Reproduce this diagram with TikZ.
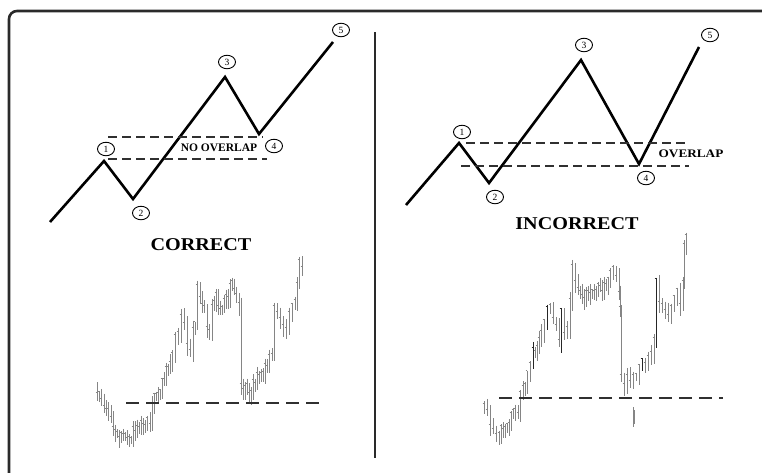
\documentclass[tikz,border=0pt]{standalone}
\usepackage{fontspec}
\setmainfont{Liberation Serif}
\usetikzlibrary{shapes.geometric,positioning}
\definecolor{ewframe}{HTML}{2A2A2A}
\definecolor{ewdash}{HTML}{303030}
\colorlet{bg}{black!48}
\colorlet{bk}{black!85}

% price bars: start x, start y, list of x/y/colour
\newcommand{\pricebars}[3]{%
  \xdef\lastc{#2}%
  \foreach \xa/\ya/\cl [remember=\xa as \xp (initially #1),remember=\ya as \yp (initially #2)] in {#3}{
    \pgfmathtruncatemacro\nb{max(1,round((\xa-\xp)/2.6))}
    \foreach \k in {1,...,\nb}{
      \pgfmathsetmacro\bx{\xp+(\xa-\xp)*\k/\nb}
      \pgfmathsetmacro\bc{\yp+(\ya-\yp)*\k/\nb+5*rand}
      \pgfmathsetmacro\bt{min(\bc,\lastc)-3-7*rnd}
      \pgfmathsetmacro\bb{max(\bc,\lastc)+3+7*rnd}
      \draw[bar,draw=\cl] (\bx,\bt) -- (\bx,\bb);
      \draw[bar,draw=\cl] (\bx-1.4,\bc-3) -- (\bx,\bc-3) (\bx,\bc+1) -- (\bx+1.4,\bc+1);
      \xdef\lastc{\bc}
    }
  }%
}

\begin{document}
\begin{tikzpicture}[x=1pt,y=-1pt,every node/.style={font=\bfseries,align=center}]
\tikzset{
  wave/.style={line width=2.6pt,line join=miter,black},
  lbl/.style={draw,ellipse,line width=0.9pt,minimum width=17pt,minimum height=13.5pt,inner sep=0pt,font=\fontsize{9.5}{9.5}\selectfont},
  ovl/.style={dash pattern=on 9pt off 5pt,line width=1.1pt,ewdash},
  sup/.style={dash pattern=on 13pt off 7pt,line width=1.3pt,ewdash},
  bar/.style={line width=0.85pt},
  title/.style={font=\fontsize{18}{18}\selectfont\bfseries,xscale=1.12,inner sep=0pt}
}
\pgfmathsetseed{11}
\useasboundingbox (0,0) rectangle (762,472);

% frame and divider
\draw[ewframe,line width=2.6pt,rounded corners=8pt] (9,474) -- (9,11) -- (762,11);
\coordinate (dv1) at (375,32);
\coordinate (dv2) at (375,458);
\draw[ewframe,line width=1.2pt] (dv1) -- (dv2);

% correct count
\coordinate (c0) at (50,222);
\coordinate (c1) at (104,161);
\coordinate (c2) at (133,199);
\coordinate (c3) at (225,77);
\coordinate (c4) at (259,134);
\coordinate (c5) at (333,42);
\draw[wave] (c0) -- (c1) -- (c2) -- (c3) -- (c4) -- (c5);
\node[lbl] (cl1) at (106,149) {1};
\node[lbl] (cl2) at (141,213) {2};
\node[lbl] (cl3) at (227,62) {3};
\node[lbl] (cl4) at (274,146) {4};
\node[lbl] (cl5) at (341,30) {5};
\coordinate (ct1) at (108,137);
\coordinate (ct2) at (263,137);
\coordinate (cb1) at (108,159);
\coordinate (cb2) at (267,159);
\draw[ovl] (ct1) -- (ct2);
\draw[ovl] (cb1) -- (cb2);
\node[font=\fontsize{11.5}{11.5}\selectfont\bfseries,inner sep=0pt] (nov) at (219,148) {NO OVERLAP};
\node[title] (ctit) at (201,245) {CORRECT};

% incorrect count
\coordinate (i0) at (406,205);
\coordinate (i1) at (459,143);
\coordinate (i2) at (489,183);
\coordinate (i3) at (581,60);
\coordinate (i4) at (639,164);
\coordinate (i5) at (699,47);
\draw[wave] (i0) -- (i1) -- (i2) -- (i3) -- (i4) -- (i5);
\node[lbl] (il1) at (462,132) {1};
\node[lbl] (il2) at (495,197) {2};
\node[lbl] (il3) at (584,45) {3};
\node[lbl] (il4) at (646,178) {4};
\node[lbl] (il5) at (710,35) {5};
\coordinate (it1) at (466,143);
\coordinate (it2) at (689,143);
\coordinate (ib1) at (461,166);
\coordinate (ib2) at (689,166);
\draw[ovl] (it1) -- (it2);
\draw[ovl] (ib1) -- (ib2);
\node[font=\fontsize{11.5}{11.5}\selectfont\bfseries,xscale=1.15,inner sep=0pt] (ov) at (691,154) {OVERLAP};
\node[title] (itit) at (577,224) {INCORRECT};

% charts
\pricebars{97}{392}{97/392/bg,101/400/bg,104/410/bg,108/408/bg,111/420/bg,115/430/bg,119/436/bg,123/440/bg,127/442/bg,131/436/bg,135/430/bg,139/428/bg,143/425/bg,147/422/bg,150/426/bg,152/405/bg,156/395/bg,160/388/bg,164/378/bg,168/368/bg,172/356/bg,175/342/bg,178/332/bg,181/322/bg,184/330/bg,187/345/bg,190/352/bg,193/335/bg,195/320/bg,197/292/bg,200/300/bg,204/312/bg,207/325/bg,209/335/bg,212/305/bg,216/300/bg,220/308/bg,224/302/bg,228/295/bg,232/285/bg,236/295/bg,239/308/bg,241/386/bg,245/388/bg,249/392/bg,253/385/bg,257/380/bg,261/375/bg,265/368/bg,269/362/bg,272/355/bg,274/305/bg,277/312/bg,280/318/bg,283/325/bg,286/332/bg,289/315/bg,292/305/bg,295/298/bg,297/290/bg,299/262/bg,302/265/bg}
\pricebars{484}{406}{484/406/bg,487/415/bg,490/425/bg,493/435/bg,496/440/bg,499/432/bg,503/428/bg,507/424/bg,511/420/bg,515/414/bg,518/420/bg,520/398/bg,523/388/bg,527/378/bg,530/368/bg,533/352/bk,537/348/bg,541/335/bg,544/320/bg,547/305/bk,550/312/bg,553/320/bg,556/330/bg,559/338/bg,561/315/bk,564/335/bg,567/325/bg,570/300/bg,572/268/bg,575/285/bg,578/290/bg,582/300/bg,586/292/bg,590/298/bg,594/292/bg,598/288/bg,602/290/bg,606/284/bg,610/278/bg,613/270/bg,616/275/bg,619/290/bg,620/308/bg,621/375/bg,624/385/bg,627/380/bg,630/388/bg,633/382/bg,636/375/bg,639/370/bg,642/360/bk,645/368/bg,648/362/bg,651/356/bg,654/345/bg,656/285/bk,659/300/bg,662/305/bg,665/312/bg,668/320/bg,671/305/bg,674/300/bg,677/296/bg,680/302/bg,683/285/bg,684/248/bg,686/240/bg}
\draw[bar,bg] (633,407) -- (633,427) (634.5,410) -- (634.5,424);
\coordinate (cs1) at (126,403);
\coordinate (cs2) at (325,403);
\coordinate (is1) at (499,398);
\coordinate (is2) at (723,398);
\draw[sup] (cs1) -- (cs2);
\draw[sup] (is1) -- (is2);
\end{tikzpicture}
\end{document}
